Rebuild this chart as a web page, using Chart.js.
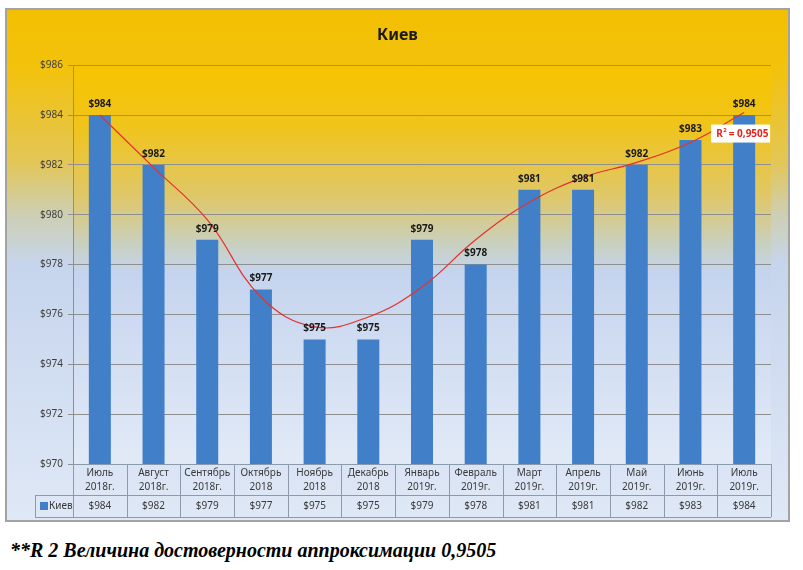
<!DOCTYPE html>
<html>
<head>
<meta charset="utf-8">
<script src="https://cdn.jsdelivr.net/npm/chart.js@4/dist/chart.umd.min.js"></script>
<style>
  body { margin: 0; background: #fff; width: 803px; height: 570px; position: relative; overflow: hidden; }
  #box { position: absolute; left: 5px; top: 8px; width: 781px; height: 510px; border: 2px solid #a3a3a3; }
  #note { position: absolute; left: 10px; top: 539px; font: italic bold 20px "Liberation Serif", serif; color: #000; white-space: nowrap; }
</style>
</head>
<body>
<div id="box"><canvas id="kievChart" width="781" height="510"></canvas></div>
<div id="note">**R 2 Величина достоверности аппроксимации 0,9505</div>
<script>
// категории (две строки подписи)
const months = [
  ['Июль', '2018г.'], ['Август', '2018г.'], ['Сентябрь', '2018г.'], ['Октябрь', '2018'],
  ['Ноябрь', '2018'], ['Декабрь', '2018'], ['Январь', '2019г.'], ['Февраль', '2019г.'],
  ['Март', '2019г.'], ['Апрель', '2019г.'], ['Май', '2019г.'], ['Июнь', '2019г.'], ['Июль', '2019г.']
];
// цены, Киев
const kievPrices = [984, 982, 979, 977, 975, 975, 979, 978, 981, 981, 982, 983, 984];
// линия тренда
const trendValues = [984.0, 981.9, 979.8, 976.7, 975.5, 975.9, 977.1, 979.0, 980.5, 981.5, 982.1, 982.9, 984.1];
const yTicks = [970, 972, 974, 976, 978, 980, 982, 984, 986];
const r2Text = '0,9505';

const barColor = '#4180c8';
const textFont = '"Noto Sans", "DejaVu Sans", sans-serif';

// фон, подписи, таблица данных
const decorPlugin = {
  id: 'decor',
  beforeDraw(chart) {
    const { ctx, chartArea: a, width, height } = chart;
    ctx.save();
    let g = ctx.createLinearGradient(0, 0, 0, height);
    g.addColorStop(0, '#f3bf00');
    g.addColorStop(0.12, '#f2c20e');
    g.addColorStop(0.30, '#e3c658');
    g.addColorStop(0.40, '#cdcfb2');
    g.addColorStop(0.50, '#c6d5ed');
    g.addColorStop(1, '#dfe8f6');
    ctx.fillStyle = g;
    ctx.fillRect(0, 0, width, height);
    // область построения
    g = ctx.createLinearGradient(0, a.top, 0, a.bottom);
    g.addColorStop(0, '#f6c400');
    g.addColorStop(0.15, '#f0c41a');
    g.addColorStop(0.33, '#dfc76a');
    g.addColorStop(0.45, '#c8d0c0');
    g.addColorStop(0.52, '#c5d4ee');
    g.addColorStop(1, '#e2eaf7');
    ctx.fillStyle = g;
    ctx.fillRect(a.left, a.top, a.right - a.left, a.bottom - a.top);
    ctx.restore();
  },
  afterDatasetsDraw(chart) {
    const { ctx } = chart;
    const meta = chart.getDatasetMeta(0);
    ctx.save();
    ctx.font = 'bold 10px ' + textFont;
    ctx.fillStyle = '#1a1a1a';
    ctx.textAlign = 'center';
    ctx.textBaseline = 'bottom';
    meta.data.forEach((bar, i) => {
      ctx.fillText('$' + kievPrices[i], bar.x, bar.y - 6);
    });
    // R² подпись
    const tMeta = chart.getDatasetMeta(1);
    const last = tMeta.data[tMeta.data.length - 1];
    const bx = last.x - 33, by = last.y + 12;
    ctx.fillStyle = '#ffffff';
    ctx.fillRect(bx, by, 59, 18);
    ctx.fillStyle = '#e8231c';
    ctx.textAlign = 'left';
    ctx.textBaseline = 'middle';
    ctx.font = 'bold 10px ' + textFont;
    ctx.fillText('R', bx + 5, by + 10);
    ctx.font = 'bold 6px ' + textFont;
    ctx.fillText('2', bx + 12, by + 6);
    ctx.font = 'bold 10px ' + textFont;
    ctx.fillText(' = ' + r2Text, bx + 15, by + 10);
    ctx.restore();
  },
  afterDraw(chart) {
    const { ctx, chartArea: a, scales } = chart;
    const x = scales.x;
    const step = (a.right - a.left) / months.length;
    const row1 = a.bottom, row2 = a.bottom + 31, row3 = a.bottom + 53;
    const legendLeft = a.left - 38;
    ctx.save();
    ctx.strokeStyle = '#8d9aab';
    ctx.lineWidth = 1;
    ctx.beginPath();
    ctx.moveTo(a.left, row1 + 0.5); ctx.lineTo(a.right, row1 + 0.5);
    ctx.moveTo(legendLeft, row2 + 0.5); ctx.lineTo(a.right, row2 + 0.5);
    ctx.moveTo(legendLeft, row3 + 0.5); ctx.lineTo(a.right, row3 + 0.5);
    ctx.moveTo(legendLeft + 0.5, row2); ctx.lineTo(legendLeft + 0.5, row3);
    for (let i = 0; i <= months.length; i++) {
      const vx = Math.round(a.left + i * step) + 0.5;
      ctx.moveTo(vx, row1); ctx.lineTo(vx, row3);
    }
    ctx.stroke();

    ctx.fillStyle = '#3a3a3a';
    ctx.font = '10px ' + textFont;
    ctx.textAlign = 'center';
    ctx.textBaseline = 'middle';
    months.forEach((m, i) => {
      const cx = x.getPixelForValue(i);
      ctx.fillText(m[0], cx, row1 + 9);
      ctx.fillText(m[1], cx, row1 + 23);
      ctx.fillText('$' + kievPrices[i], cx, row2 + 11);
    });
    // легенда в таблице
    ctx.fillStyle = barColor;
    ctx.fillRect(legendLeft + 5, row2 + 7, 8, 8);
    ctx.fillStyle = '#3a3a3a';
    ctx.textAlign = 'left';
    ctx.fillText('Киев', legendLeft + 14, row2 + 11);
    ctx.restore();
  }
};

const ctx = document.getElementById('kievChart').getContext('2d');
const myChart = new Chart(ctx, {
  type: 'bar',
  data: {
    labels: months,
    datasets: [{
      label: 'Киев',
      data: kievPrices,
      backgroundColor: barColor,
      barPercentage: 0.41,
      categoryPercentage: 1,
      order: 2
    }, {
      type: 'line',
      label: 'Тренд',
      data: trendValues,
      borderColor: '#e5322a',
      borderWidth: 1.2,
      pointRadius: 0,
      tension: 0.4,
      fill: false,
      order: 1
    }]
  },
  options: {
    responsive: false,
    animation: false,
    layout: { padding: { left: 17, right: 17, top: 0, bottom: 56 } },
    plugins: {
      legend: { display: false },
      tooltip: { enabled: false },
      title: {
        display: true,
        text: 'Киев',
        color: '#1a1a1a',
        font: { family: textFont, size: 16, weight: 'bold' },
        padding: { top: 16, bottom: 20 }
      }
    },
    scales: {
      x: {
        display: false
      },
      y: {
        min: 970,
        max: 986,
        afterBuildTicks(scale) { scale.ticks = yTicks.map(v => ({ value: v })); },
        afterFit(scale) { scale.width = 49; },
        ticks: {
          color: '#404040',
          font: { family: textFont, size: 10 },
          padding: 5,
          callback: v => '$' + v
        },
        grid: { color: '#8f8f8f', tickLength: 5, tickColor: '#8f8f8f' },
        border: { color: '#8f8f8f' }
      }
    }
  },
  plugins: [decorPlugin]
});
</script>
</body>
</html>
